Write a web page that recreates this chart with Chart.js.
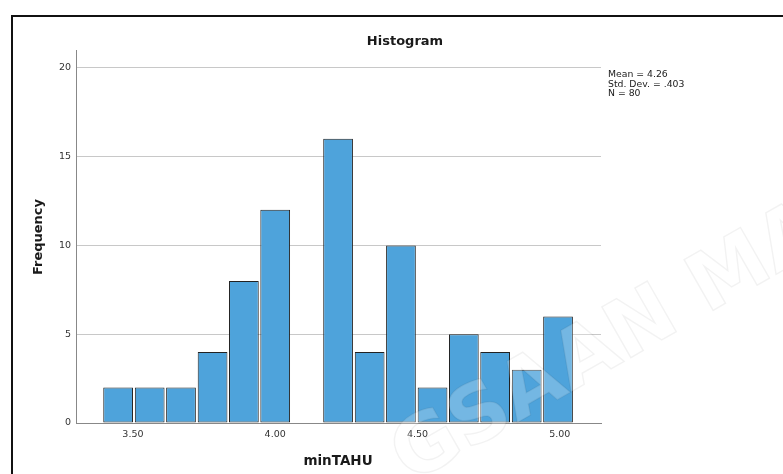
<!DOCTYPE html>
<html>
<head>
<meta charset="utf-8">
<title>Histogram</title>
<script src="https://cdn.jsdelivr.net/npm/chart.js@4/dist/chart.umd.min.js"></script>
<style>
    html, body { margin: 0; padding: 0; background: #ffffff; }
    #wrap { width: 783px; height: 474px; }
</style>
</head>
<body>
<div id="wrap"><canvas id="histChart" width="783" height="474"></canvas></div>
<script>
// --- data ---
const binCenters = [3.448, 3.559, 3.669, 3.780, 3.890, 4.000, 4.111, 4.221, 4.332, 4.442, 4.553, 4.663, 4.773, 4.884, 4.994];
const frequencies = [2, 2, 2, 4, 8, 12, 0, 16, 4, 10, 2, 5, 4, 3, 6];
const xTickValues = [3.5, 4.0, 4.5, 5.0];
const yTickValues = [0, 5, 10, 15, 20];
const statLines = ['Mean = 4.26', 'Std. Dev. = .403', 'N = 80'];
const chartTitle = 'Histogram';
const xTitle = 'minTAHU';
const yTitle = 'Frequency';

const barColor = '#4ea3db';
const tickFont = { family: 'DejaVu Sans', size: 9.5 };

// Frame, titles, stats box and the faint watermark
const decorPlugin = {
    id: 'decor',
    afterDraw(chart) {
        const ctx = chart.ctx;
        ctx.save();

        // watermark text (faint)
        ctx.save();
        ctx.translate(410, 484);
        ctx.rotate(-0.52);
        ctx.font = 'bold 80px "DejaVu Sans"';
        ctx.lineWidth = 1.5;
        ctx.strokeStyle = 'rgba(0,0,0,0.05)';
        ctx.fillStyle = 'rgba(255,255,255,0.22)';
        ctx.fillText('GSAAN MAL', 0, 0);
        ctx.strokeText('GSAAN MAL', 0, 0);
        ctx.restore();

        // outer frame (top and left edge)
        ctx.strokeStyle = '#111111';
        ctx.lineWidth = 2;
        ctx.beginPath();
        ctx.moveTo(12, 474);
        ctx.lineTo(12, 16);
        ctx.lineTo(783, 16);
        ctx.stroke();

        ctx.fillStyle = '#1a1a1a';
        ctx.textAlign = 'center';
        ctx.textBaseline = 'alphabetic';
        ctx.font = 'bold 13px "DejaVu Sans"';
        ctx.fillText(chartTitle, 405, 45);

        ctx.font = 'bold 13.5px "DejaVu Sans"';
        ctx.fillText(xTitle, 338, 465);

        ctx.save();
        ctx.translate(42, 237);
        ctx.rotate(-Math.PI / 2);
        ctx.font = 'bold 13px "DejaVu Sans"';
        ctx.fillText(yTitle, 0, 0);
        ctx.restore();

        ctx.textAlign = 'left';
        ctx.font = '9.3px "DejaVu Sans"';
        statLines.forEach((line, i) => {
            ctx.fillText(line, 608, 77 + i * 9.7);
        });

        ctx.restore();
    }
};

const ctx = document.getElementById('histChart').getContext('2d');
const chart = new Chart(ctx, {
    type: 'bar',
    data: {
        datasets: [{
            data: binCenters.map((c, i) => ({ x: c, y: frequencies[i] })),
            backgroundColor: barColor,
            borderColor: '#222222',
            borderWidth: 1,
            borderSkipped: false,
            barPercentage: 0.95,
            categoryPercentage: 1
        }]
    },
    options: {
        responsive: false,
        animation: false,
        layout: { padding: { left: 0, right: 182, top: 50, bottom: 0 } },
        plugins: {
            legend: { display: false },
            title: { display: false },
            tooltip: { enabled: false }
        },
        scales: {
            x: {
                type: 'linear',
                min: 3.30,
                max: 5.145,
                offset: false,
                grid: { display: false, drawTicks: false },
                border: { display: true, color: '#888888', width: 1 },
                ticks: {
                    color: '#333333',
                    font: tickFont,
                    padding: 6,
                    maxRotation: 0,
                    callback: v => v.toFixed(2)
                },
                afterBuildTicks: scale => {
                    scale.ticks = xTickValues.map(v => ({ value: v }));
                },
                afterFit: scale => { scale.height = 51; }
            },
            y: {
                min: 0,
                max: 21,
                grid: { color: '#c8c8c8', drawTicks: false },
                border: { display: true, color: '#888888', width: 1 },
                ticks: {
                    color: '#333333',
                    font: tickFont,
                    padding: 5
                },
                afterBuildTicks: scale => {
                    scale.ticks = yTickValues.map(v => ({ value: v }));
                },
                afterFit: scale => { scale.width = 76; }
            }
        }
    },
    plugins: [decorPlugin]
});
</script>
</body>
</html>
